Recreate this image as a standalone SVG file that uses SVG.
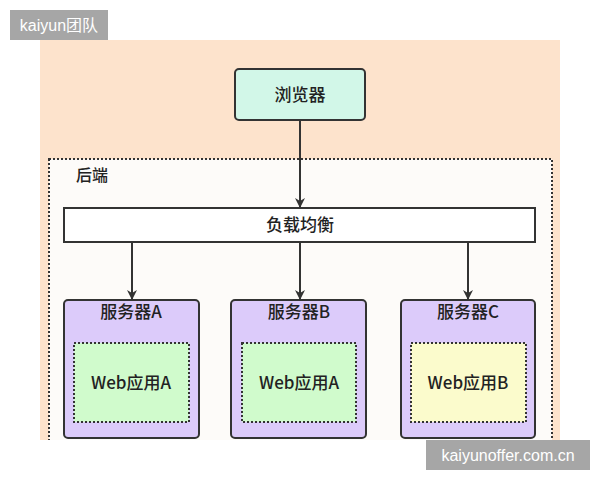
<svg xmlns="http://www.w3.org/2000/svg" width="600" height="480" viewBox="0 0 600 480">
<defs>
<marker id="ah" markerWidth="10" markerHeight="12" refX="9" refY="5" orient="auto" markerUnits="userSpaceOnUse"><path d="M0,0 L10,5 L0,10 L3,5 z" fill="#333"/></marker>
</defs>
<style>
text{font-family:"Noto Sans CJK SC","Liberation Sans",sans-serif;fill:#222;text-anchor:middle;font-weight:500}
.srv{fill:#dccbfa;stroke:#333;stroke-width:2}
.dot{stroke:#333;stroke-width:2;stroke-dasharray:2 2}
.wm{fill:#a6a6a6}
.wmt{fill:#fff;font-family:"Liberation Sans","Noto Sans CJK SC",sans-serif;font-weight:normal}
.c{stroke:#333;stroke-width:2;fill:none;marker-end:url(#ah)}
</style>
<rect width="600" height="480" fill="#fff"/>
<rect x="40" y="40" width="520" height="400" fill="#fde3cc"/>
<g id="backend">
<rect x="49" y="159" width="503" height="290" fill="#fdfbf9" class="dot"/>
<text x="92" y="181" font-size="16">后端</text>
</g>
<g id="browser"><rect x="235" y="69" width="130" height="51" rx="4" fill="#d2f7e8" stroke="#333" stroke-width="2"/><text x="300" y="101" font-size="17">浏览器</text></g>
<g id="lb"><rect x="64" y="208" width="471" height="34" fill="#fff" stroke="#333" stroke-width="2"/><text x="300" y="231" font-size="17">负载均衡</text></g>
<g id="serverA"><rect class="srv" x="64" y="300" width="135" height="138" rx="4"/><text x="131" y="318" font-size="17">服务器A</text>
<rect x="74" y="343" width="115" height="79" fill="#d0fbcc" class="dot"/><text x="131" y="389" font-size="17">Web应用A</text></g>
<g id="serverB"><rect class="srv" x="231" y="300" width="135" height="138" rx="4"/><text x="299" y="318" font-size="17">服务器B</text>
<rect x="242" y="343" width="114" height="79" fill="#d0fbcc" class="dot"/><text x="299" y="389" font-size="17">Web应用A</text></g>
<g id="serverC"><rect class="srv" x="401" y="300" width="134" height="138" rx="4"/><text x="468" y="318" font-size="17">服务器C</text>
<rect x="411" y="343" width="115" height="79" fill="#fbfbcc" class="dot"/><text x="468" y="389" font-size="17">Web应用B</text></g>
<rect x="0" y="440" width="600" height="40" fill="#fff"/>
<g id="connectors">
<line class="c" x1="300" y1="120" x2="300" y2="207"/>
<line class="c" x1="132" y1="242" x2="132" y2="299"/>
<line class="c" x1="300" y1="242" x2="300" y2="299"/>
<line class="c" x1="468" y1="242" x2="468" y2="299"/>
</g>
<g id="wm1"><rect class="wm" x="10" y="10" width="98" height="30"/><text class="wmt" x="59" y="31" font-size="16">kaiyun团队</text></g>
<g id="wm2"><rect class="wm" x="426" y="440" width="164" height="30"/><text class="wmt" x="508" y="461" font-size="16">kaiyunoffer.com.cn</text></g>
</svg>
